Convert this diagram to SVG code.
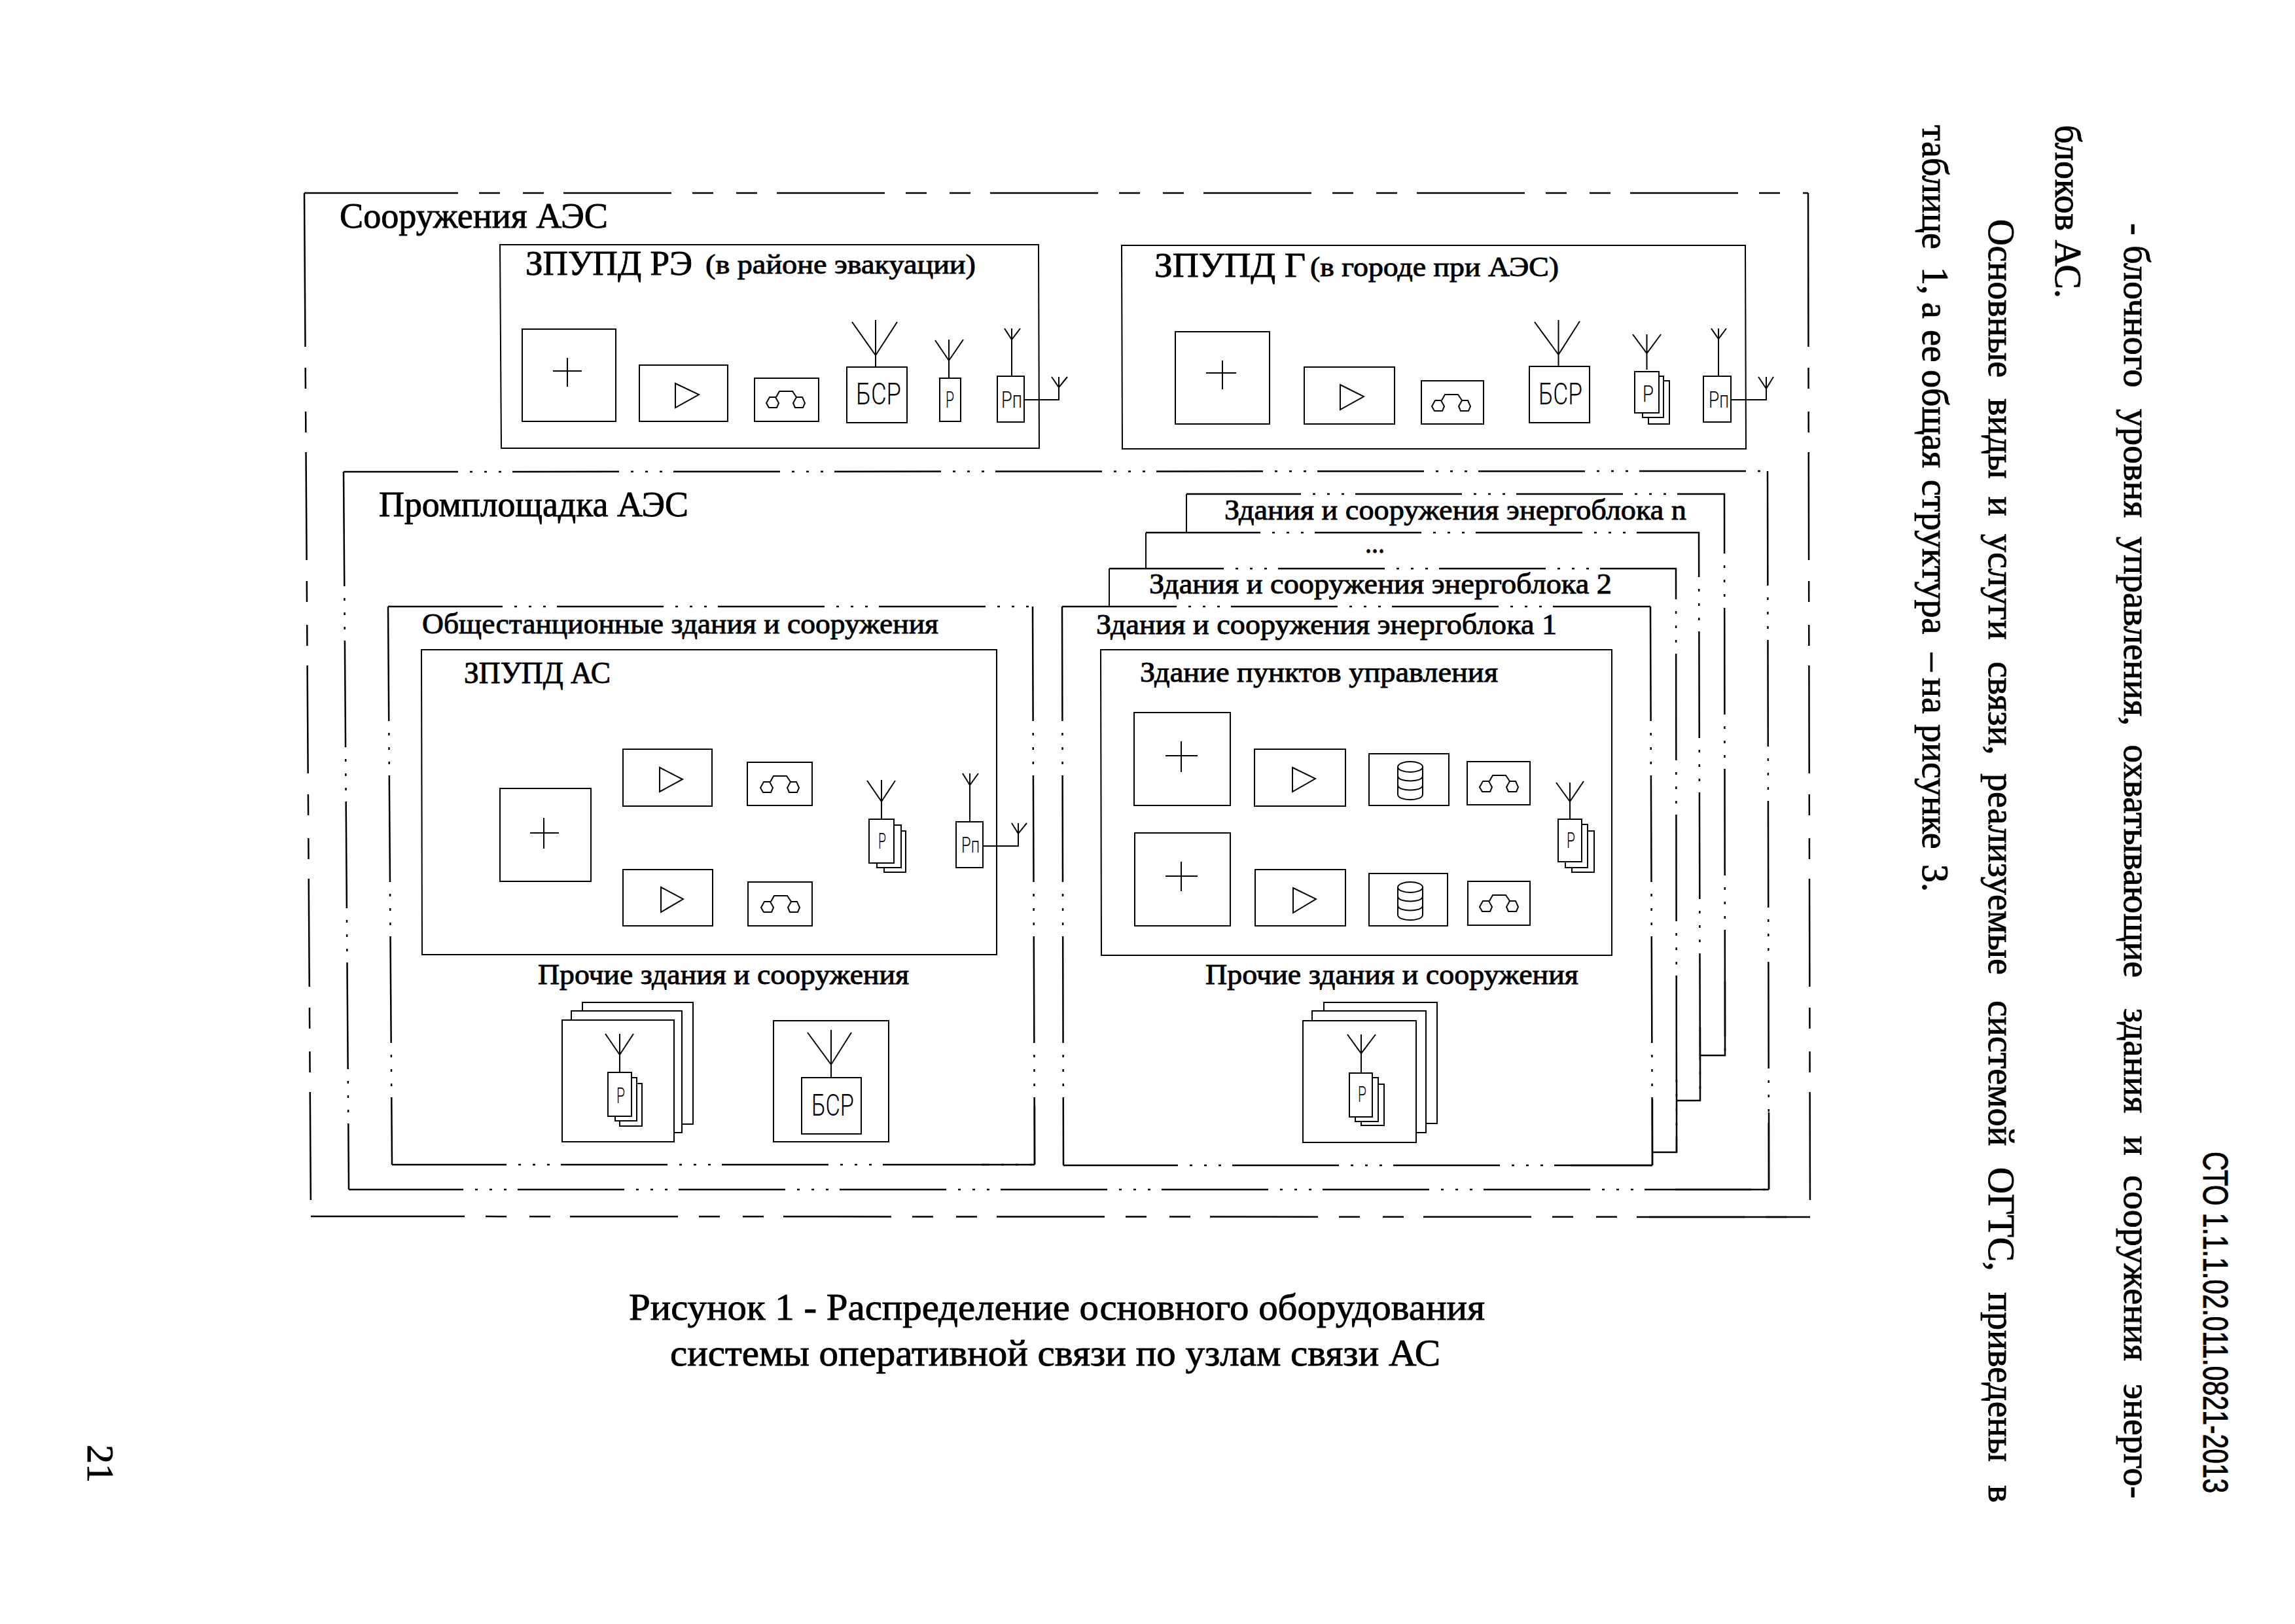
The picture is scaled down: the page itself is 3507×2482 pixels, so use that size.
<svg xmlns="http://www.w3.org/2000/svg" xmlns:xlink="http://www.w3.org/1999/xlink" width="3507" height="2482" viewBox="0 0 3507 2482">
<style>
text{font-family:"Liberation Serif","Times New Roman",serif;fill:#000;stroke:#000;stroke-width:.9}
.s{font-family:Roboto,"Liberation Sans",sans-serif;font-weight:300;stroke:none}
.f{fill:none;stroke:#000;stroke-width:2.5}
.l{fill:none;stroke:#000;stroke-width:2}
.b{fill:#fff;stroke:#000;stroke-width:2}
.e1{fill:none;stroke:#000;stroke-width:2.5;stroke-dasharray:235 32 32 35 32 30 165 32 32 35 32 30 165 32 32 35 32 30 165 32 32 35 32 30 165 32 32 35 32 30 165 32 32 35 32 30 165 32 32 35 32 30 165 32 32 35 32 30}
.e2{fill:none;stroke:#000;stroke-width:2.5;stroke-dasharray:175 18 4 18 4 18 4 17 163 18 4 18 4 18 4 17 163 18 4 18 4 18 4 17 163 18 4 18 4 18 4 17 163 18 4 18 4 18 4 17 163 18 4 18 4 18 4 17 163 18 4 18 4 18 4 17 163 18 4 18 4 18 4 17 163 18 4 18 4 18 4 17 163 18 4 18 4 18 4 17}
</style>
<defs>
<g id="phone" class="l"><path d="M15 9L20 0H40L46 9"/><path d="M4 25L0 18L5 9H14L19 18L16 25Z"/><path d="M44 25L41 18L46 9H55L59 18L56 25Z"/></g>
<g id="db" class="l"><ellipse cx="19" cy="8" rx="19" ry="8"/><path d="M0 8V50C0 61 38 61 38 50V8M0 22C0 32 38 32 38 22M0 36C0 46 38 46 38 36"/></g>
</defs>
<rect width="3507" height="2482" fill="#fff"/>

<g id="frames">
<path class="e1" d="M465 295L2763 295"/>
<path class="e1" d="M465 295L475 1859"/>
<path class="e1" d="M2763 295L2766 1860"/>
<path class="e1" d="M475 1859L2766 1860"/>
<path class="f" d="M2766 1860H2520"/>
<path class="e2" d="M525 721L2701 720"/>
<path class="e2" d="M525 721L533 1818"/>
<path class="e2" d="M2701 720L2703 1818"/>
<path class="e2" d="M533 1818L2703 1818"/>
<path class="f" d="M2703 1818V1700M2703 1818H2560"/>
</g>
<text x="519" y="348" font-size="54" textLength="410" lengthAdjust="spacingAndGlyphs">Сооружения АЭС</text>
<text x="579" y="789" font-size="54" textLength="473" lengthAdjust="spacingAndGlyphs">Промплощадка АЭС</text>

<g id="zpupd-re">
<path class="l" d="M764 374H1587L1588 685H766Z"/>
<text x="803" y="420" font-size="52" textLength="255" lengthAdjust="spacingAndGlyphs">ЗПУПД РЭ</text>
<text x="1078" y="418" font-size="42" textLength="413" lengthAdjust="spacingAndGlyphs">(в районе эвакуации)</text>
<rect class="b" x="798" y="503" width="143" height="141"/><path class="l" d="M845 567H889M867 547V591"/>
<rect class="b" x="977" y="558" width="135" height="86"/><path class="l" d="M1032 586L1068 603L1032 623Z"/>
<rect class="b" x="1153" y="578" width="98" height="66"/><use xlink:href="#phone" href="#phone" x="1171" y="598"/>
<rect class="b" x="1294" y="561" width="92" height="85"/><path class="l" d="M1338 489V561M1302 492L1338 543L1371 492"/>
<text class="s" x="1308" y="618" font-size="46" textLength="69" lengthAdjust="spacingAndGlyphs">БСР</text>
<rect class="b" x="1436" y="578" width="32" height="66"/><path class="l" d="M1450 519V578M1429 520L1450 551L1472 519"/>
<text class="s" x="1445" y="623" font-size="35" textLength="13" lengthAdjust="spacingAndGlyphs">Р</text>
<rect class="b" x="1524" y="575" width="41" height="70"/><path class="l" d="M1546 502V575M1535 502L1546 519L1559 502"/>
<text class="s" x="1530" y="623" font-size="35" textLength="32" lengthAdjust="spacingAndGlyphs">Рп</text>
<path class="l" d="M1607 576L1618 592L1631 576M1618 576V592"/>
</g>

<g id="zpupd-g">
<path class="l" d="M1714 375H2667L2668 686H1715Z"/>
<text x="1764" y="423" font-size="52" textLength="231" lengthAdjust="spacingAndGlyphs">ЗПУПД Г</text>
<text x="2002" y="422" font-size="42" textLength="380" lengthAdjust="spacingAndGlyphs">(в городе при АЭС)</text>
<rect class="b" x="1796" y="507" width="144" height="141"/><path class="l" d="M1843 570H1889M1868 551V595"/>
<rect class="b" x="1993" y="561" width="138" height="87"/><path class="l" d="M2048 588L2084 606L2048 626Z"/>
<rect class="b" x="2172" y="582" width="95" height="66"/><use xlink:href="#phone" href="#phone" x="2188" y="603"/>
<rect class="b" x="2337" y="560" width="92" height="86"/><path class="l" d="M2381.5 489V560M2345 492L2381.5 542L2414 491"/>
<text class="s" x="2351" y="618" font-size="46" textLength="67" lengthAdjust="spacingAndGlyphs">БСР</text>
<path class="l" d="M2516.5 511V565M2495 511L2516.5 540L2538 511"/>
<rect class="b" x="2519" y="582" width="32" height="66"/><rect class="b" x="2510" y="575" width="32" height="63"/><rect class="b" x="2498" y="568" width="37" height="63"/>
<text class="s" x="2510" y="614" font-size="35" textLength="17" lengthAdjust="spacingAndGlyphs">Р</text>
<rect class="b" x="2603" y="575" width="42" height="70"/><path class="l" d="M2626 502V575M2615 502L2626 518L2638 502"/>
<text class="s" x="2611" y="623" font-size="35" textLength="31" lengthAdjust="spacingAndGlyphs">Рп</text>
<path class="l" d="M2687 576L2699 594L2710 576M2699 576V594"/>
</g>

<g id="block-n">
<path class="l" d="M1813 814V755"/>
<path class="e2" d="M1813 755H2635L2636 1613"/><path class="f" d="M2636 1500V1613H2598"/>
<text x="1871" y="794" font-size="44" textLength="706" lengthAdjust="spacingAndGlyphs">Здания и сооружения энергоблока n</text>
</g>
<g id="block-dots">
<path class="l" d="M1751 869V814"/>
<path class="e2" d="M1751 814H2596L2598 1682"/><path class="f" d="M2598 1570V1682H2562"/>
<text x="2086" y="845" font-size="44" textLength="30" lengthAdjust="spacingAndGlyphs">...</text>
</g>
<g id="block-2">
<path class="l" d="M1695 927V869"/>
<path class="e2" d="M1695 869H2561L2562 1761"/><path class="f" d="M2562 1650V1761H2525"/>
<text x="1756" y="907" font-size="44" textLength="707" lengthAdjust="spacingAndGlyphs">Здания и сооружения энергоблока 2</text>
</g>

<g id="block-1">
<path class="e2" d="M1623 927H2522"/><path class="e2" d="M1623 927L1625 1781"/><path class="e2" d="M2522 927L2525 1781"/><path class="e2" d="M1625 1781H2525"/>
<path class="f" d="M2525 1781V1680M2525 1781H2400"/>
<text x="1675" y="969" font-size="44" textLength="704" lengthAdjust="spacingAndGlyphs">Здания и сооружения энергоблока 1</text>
</g>

<g id="control-building">
<path class="l" d="M1682 993H2463V1460H1683Z"/>
<text x="1742" y="1042" font-size="44" textLength="547" lengthAdjust="spacingAndGlyphs">Здание пунктов управления</text>
<rect class="b" x="1733" y="1089" width="147" height="142"/><path class="l" d="M1781 1155H1830M1805 1133V1180"/>
<rect class="b" x="1734" y="1273" width="146" height="142"/><path class="l" d="M1781 1339H1830M1805 1317V1362"/>
<rect class="b" x="1917" y="1145" width="139" height="87"/><path class="l" d="M1975 1173L2010 1190L1975 1210Z"/>
<rect class="b" x="1918" y="1329" width="138" height="86"/><path class="l" d="M1976 1357L2011 1374L1976 1395Z"/>
<rect class="b" x="2092" y="1152" width="122" height="79"/><use xlink:href="#db" href="#db" x="2136" y="1164"/>
<rect class="b" x="2092" y="1335" width="120" height="80"/><use xlink:href="#db" href="#db" x="2136" y="1348"/>
<rect class="b" x="2242" y="1164" width="96" height="66"/><use xlink:href="#phone" href="#phone" x="2261" y="1185"/>
<rect class="b" x="2243" y="1347" width="95" height="67"/><use xlink:href="#phone" href="#phone" x="2261" y="1368"/>
<path class="l" d="M2399 1196V1252M2378 1196L2399 1225L2420 1194"/>
<rect class="b" x="2402" y="1270" width="34" height="63"/><rect class="b" x="2392" y="1260" width="34" height="66"/><rect class="b" x="2381" y="1252" width="36" height="65"/>
<text class="s" x="2394" y="1296" font-size="33" textLength="13" lengthAdjust="spacingAndGlyphs">Р</text>
</g>

<g id="other-1">
<text x="1842" y="1504" font-size="44" textLength="570" lengthAdjust="spacingAndGlyphs">Прочие здания и сооружения</text>
<rect class="b" x="2023" y="1532" width="173" height="185"/><rect class="b" x="2005" y="1545" width="174" height="186"/><rect class="b" x="1991" y="1560" width="173" height="186"/>
<path class="l" d="M2080 1581V1640M2059 1581L2080 1610L2102 1581"/>
<rect class="b" x="2080" y="1657" width="35" height="63"/><rect class="b" x="2071" y="1647" width="35" height="67"/><rect class="b" x="2062" y="1640" width="35" height="67"/>
<text class="s" x="2075" y="1684" font-size="33" textLength="13" lengthAdjust="spacingAndGlyphs">Р</text>
</g>

<g id="common-buildings">
<path class="e2" d="M593 927H1578"/><path class="e2" d="M593 927L599 1780"/><path class="e2" d="M1578 927L1581 1780"/><path class="e2" d="M599 1780H1581"/>
<path class="f" d="M1581 1780V1690M1581 1780H1500"/>
<text x="645" y="968" font-size="44" textLength="789" lengthAdjust="spacingAndGlyphs">Общестанционные здания и сооружения</text>
</g>

<g id="zpupd-as">
<path class="l" d="M644 993H1523V1459H645Z"/>
<text x="709" y="1044" font-size="46" textLength="224" lengthAdjust="spacingAndGlyphs">ЗПУПД АС</text>
<rect class="b" x="764" y="1205" width="139" height="142"/><path class="l" d="M810 1273H854M831 1250V1297"/>
<rect class="b" x="952" y="1145" width="136" height="87"/><path class="l" d="M1008 1173L1043 1191L1008 1210Z"/>
<rect class="b" x="1142" y="1165" width="99" height="66"/><use xlink:href="#phone" href="#phone" x="1162" y="1186"/>
<rect class="b" x="952" y="1329" width="137" height="86"/><path class="l" d="M1010 1356L1044 1374L1010 1394Z"/>
<rect class="b" x="1143" y="1348" width="98" height="67"/><use xlink:href="#phone" href="#phone" x="1163" y="1369"/>
<path class="l" d="M1347 1192V1252M1325 1193L1347 1225L1368 1193"/>
<rect class="b" x="1351" y="1270" width="33" height="63"/><rect class="b" x="1340" y="1261" width="37" height="65"/><rect class="b" x="1328" y="1252" width="38" height="67"/>
<text class="s" x="1342" y="1297" font-size="33" textLength="12" lengthAdjust="spacingAndGlyphs">Р</text>
<rect class="b" x="1461" y="1256" width="41" height="70"/><path class="l" d="M1482 1182V1256M1471 1182L1482 1200L1495 1182"/>
<text class="s" x="1469" y="1303" font-size="33" textLength="28" lengthAdjust="spacingAndGlyphs">Рп</text>
<path class="l" d="M1546 1258L1556 1274L1569 1258M1556 1258V1274"/>
</g>

<g id="other-common">
<text x="822" y="1504" font-size="44" textLength="567" lengthAdjust="spacingAndGlyphs">Прочие здания и сооружения</text>
<rect class="b" x="890" y="1532" width="169" height="186"/><rect class="b" x="873" y="1545" width="169" height="186"/><rect class="b" x="859" y="1559" width="171" height="186"/>
<path class="l" d="M947 1580V1639M925 1580L947 1612L968 1580"/>
<rect class="b" x="947" y="1656" width="34" height="65"/><rect class="b" x="940" y="1647" width="33" height="66"/><rect class="b" x="929" y="1639" width="36" height="67"/>
<text class="s" x="942" y="1686" font-size="33" textLength="13" lengthAdjust="spacingAndGlyphs">Р</text>
</g>
<g id="other-common-bsr">
<rect class="b" x="1182" y="1560" width="176" height="185"/>
<rect class="b" x="1225" y="1647" width="91" height="86"/>
<path class="l" d="M1270 1574V1647M1234 1578L1270 1627L1301 1578"/>
<text class="s" x="1240" y="1705" font-size="46" textLength="65" lengthAdjust="spacingAndGlyphs">БСР</text>
</g>

<g id="connectors">
<path class="l" d="M1565 611H1618V576"/>
<path class="l" d="M2645 611H2699V576"/>
<path class="l" d="M1502 1293H1556V1258"/>
</g>

<g id="caption">
<text x="961" y="2017" font-size="58" textLength="1308" lengthAdjust="spacingAndGlyphs">Рисунок 1 - Распределение основного оборудования</text>
<text x="1024" y="2087" font-size="58" textLength="1177" lengthAdjust="spacingAndGlyphs">системы оперативной связи по узлам связи АС</text>
</g>

<g id="page-text" font-size="56">
<text transform="translate(3246 0) rotate(90)"><tspan x="341" y="0">-</tspan> <tspan x="375" y="0">блочного</tspan> <tspan x="625" y="0">уровня</tspan> <tspan x="820" y="0">управления,</tspan> <tspan x="1138" y="0">охватывающие</tspan> <tspan x="1541" y="0">здания</tspan> <tspan x="1736" y="0">и</tspan> <tspan x="1796" y="0">сооружения</tspan> <tspan x="2115" y="0">энерго-</tspan></text>
<text transform="translate(3141 0) rotate(90)" x="191" y="0">блоков АС.</text>
<text transform="translate(3039 0) rotate(90)"><tspan x="335" y="0">Основные</tspan> <tspan x="609" y="0">виды</tspan> <tspan x="759" y="0">и</tspan> <tspan x="816" y="0">услуги</tspan> <tspan x="1011" y="0">связи,</tspan> <tspan x="1182" y="0">реализуемые</tspan> <tspan x="1529" y="0">системой</tspan> <tspan x="1784" y="0">ОГТС,</tspan> <tspan x="1975" y="0">приведены</tspan> <tspan x="2270" y="0">в</tspan></text>
<text transform="translate(2938 0) rotate(90)"><tspan x="191" y="0">таблице</tspan> <tspan x="408" y="0">1,</tspan> <tspan x="462" y="0">а</tspan> <tspan x="504" y="0">ее</tspan> <tspan x="565" y="0">общая</tspan> <tspan x="733" y="0">структура</tspan> <tspan x="998" y="0">–</tspan> <tspan x="1036" y="0">на</tspan> <tspan x="1107" y="0">рисунке</tspan> <tspan x="1321" y="0">3.</tspan></text>
</g>
<text transform="translate(3367 1760) rotate(90)" font-size="54" style="font-family:'Liberation Sans',Arial,sans-serif" textLength="522" lengthAdjust="spacingAndGlyphs">СТО 1.1.1.02.011.0821-2013</text>
<text transform="translate(134 2208) rotate(90)" font-size="58">21</text>
</svg>
